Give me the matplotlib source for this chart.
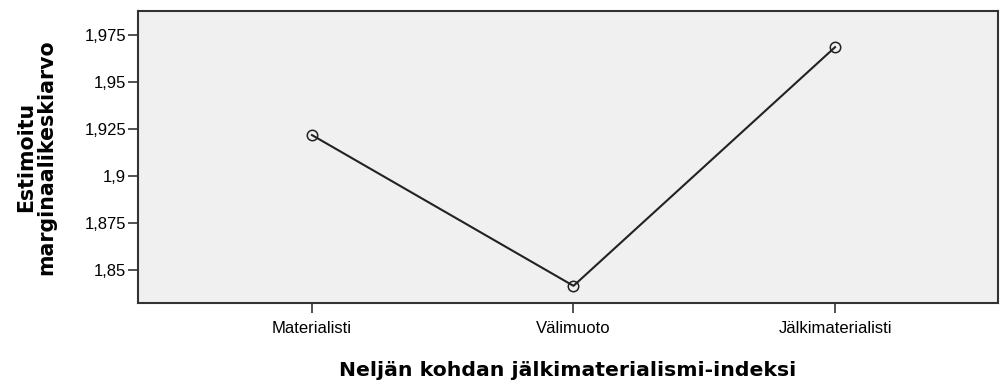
import matplotlib.pyplot as plt

categories = ["Materialisti", "Välimuoto", "Jälkimaterialisti"]
means = [1.9218, 1.8415, 1.9686]
y_ticks = [1.85, 1.875, 1.9, 1.925, 1.95, 1.975]
y_tick_labels = ["1,85", "1,875", "1,9", "1,925", "1,95", "1,975"]

fig = plt.figure(figsize=(10, 3.83), dpi=100)
ax = fig.add_axes([0.138, 0.209, 0.86, 0.762])
ax.set_facecolor("#f0f0f0")

x = list(range(len(categories)))
ax.plot(x, means, color="#222222", linewidth=1.5, marker="o", markersize=7.5,
        markerfacecolor="none", markeredgecolor="#222222", markeredgewidth=1.1)

ax.set_xlim(-0.665, 2.623)
ax.set_ylim(1.8324, 1.9878)
ax.set_xticks(x)
ax.set_xticklabels(categories, fontfamily="Liberation Sans", fontsize=12)
ax.set_yticks(y_ticks)
ax.set_yticklabels(y_tick_labels, fontfamily="Liberation Sans", fontsize=12)
ax.tick_params(axis="y", length=7, width=1.2, color="#333333", pad=1.5)
ax.tick_params(axis="x", length=7, width=1.2, color="#333333", pad=6)

for s in ax.spines.values():
    s.set_color("#333333")
    s.set_linewidth(1.5)

ax.set_xlabel("Neljän kohdan jälkimaterialismi-indeksi", fontfamily="DejaVu Sans",
              fontweight="bold", fontsize=14.7, labelpad=18)
ax.set_ylabel("Estimoitu\nmarginaalikeskiarvo", fontfamily="DejaVu Sans",
              fontweight="bold", fontsize=14.8, labelpad=20, linespacing=1.05)

fig.savefig("out.png", dpi=100, facecolor="white")
